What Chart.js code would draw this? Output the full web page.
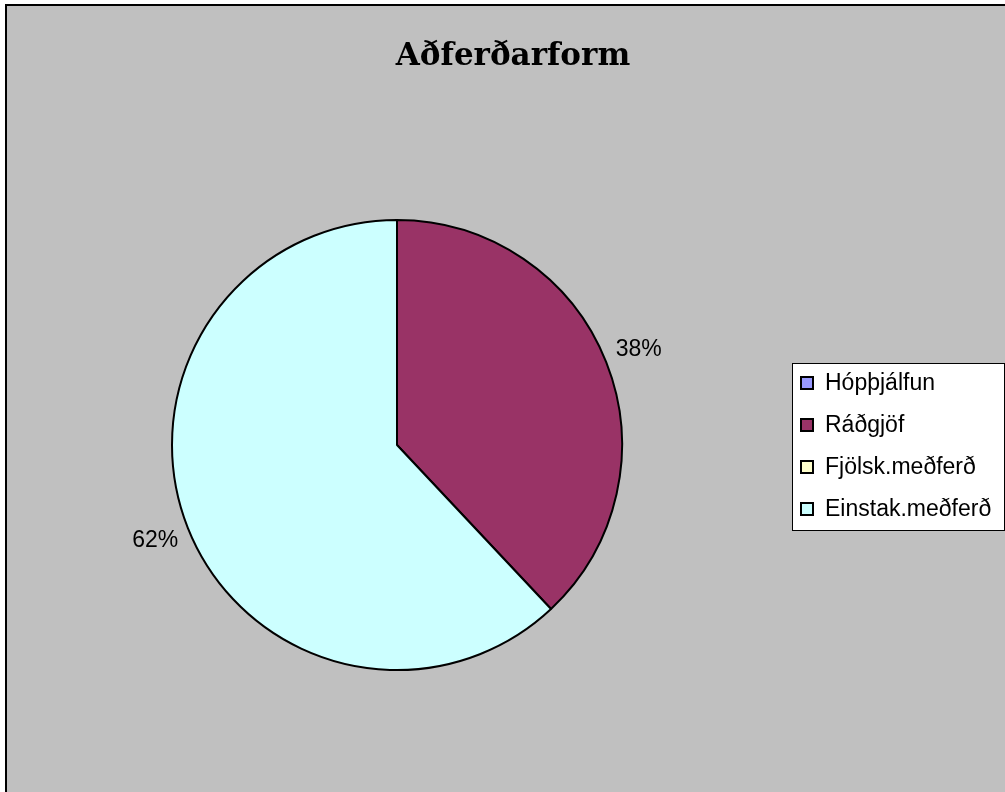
<!DOCTYPE html>
<html>
<head>
<meta charset="utf-8">
<script src="https://cdn.jsdelivr.net/npm/chart.js@4/dist/chart.umd.min.js"></script>
<style>
  html, body { margin: 0; padding: 0; background: #fff; }
  #wrap { width: 1005px; height: 792px; position: relative; }
</style>
</head>
<body>
<div id="wrap"><canvas id="pie" width="1005" height="792"></canvas></div>
<script>
// chart data
const CATEGORIES = ['Hópþjálfun', 'Ráðgjöf', 'Fjölsk.meðferð', 'Einstak.meðferð'];
const SHARES = [0, 38, 0, 62];
const COLORS = ['#9999FF', '#993366', '#FFFFCC', '#CCFFFF'];
const TITLE = 'Aðferðarform';

// background + frame
const frame = {
  id: 'frame',
  beforeDraw(chart) {
    const c = chart.ctx;
    c.save();
    c.fillStyle = '#fff';
    c.fillRect(0, 0, chart.width, chart.height);
    c.fillStyle = '#C0C0C0';
    c.fillRect(6, 5, chart.width - 6, chart.height - 5);
    c.strokeStyle = '#000';
    c.lineWidth = 2;
    c.beginPath();
    c.moveTo(6, chart.height);
    c.lineTo(6, 5);
    c.lineTo(chart.width, 5);
    c.stroke();
    c.restore();
  }
};

// title, percent labels, legend box
const extras = {
  id: 'extras',
  afterDraw(chart) {
    const c = chart.ctx;
    c.save();
    c.fillStyle = '#000';
    c.textAlign = 'center';
    c.textBaseline = 'alphabetic';
    c.font = 'bold 31px "DejaVu Serif"';
    c.fillText(TITLE, 513, 65);

    // percent labels outside each slice
    const meta = chart.getDatasetMeta(0);
    const total = SHARES.reduce((a, b) => a + b, 0);
    c.font = '23px "Liberation Sans"';
    c.textBaseline = 'middle';
    meta.data.forEach((arc, i) => {
      if (!SHARES[i]) return;
      const mid = (arc.startAngle + arc.endAngle) / 2;
      const r = arc.outerRadius + 35;
      const pct = Math.round(SHARES[i] / total * 100) + '%';
      c.fillText(pct, arc.x + Math.cos(mid) * r, arc.y + Math.sin(mid) * r);
    });

    // legend
    const bx = 792, by = 363, bw = 212, bh = 167;
    c.fillStyle = '#fff';
    c.fillRect(bx, by, bw, bh);
    c.strokeStyle = '#000';
    c.lineWidth = 1;
    c.strokeRect(bx + 0.5, by + 0.5, bw, bh);
    c.textAlign = 'left';
    c.font = '23px "Liberation Sans"';
    CATEGORIES.forEach((name, i) => {
      const y = 383 + i * 42;
      c.fillStyle = COLORS[i];
      c.fillRect(801, y - 6, 12, 12);
      c.strokeStyle = '#000';
      c.lineWidth = 2;
      c.strokeRect(801, y - 6, 12, 12);
      c.fillStyle = '#000';
      c.fillText(name, 825, y + 1);
    });
    c.restore();
  }
};

new Chart(document.getElementById('pie'), {
  type: 'pie',
  data: {
    labels: CATEGORIES,
    datasets: [{
      data: SHARES,
      backgroundColor: COLORS,
      borderColor: '#000',
      borderWidth: 2
    }]
  },
  options: {
    responsive: false,
    animation: false,
    devicePixelRatio: 1,
    layout: { padding: { left: 171, right: 382, top: 219, bottom: 121 } },
    plugins: {
      legend: { display: false },
      title: { display: false },
      tooltip: { enabled: false }
    }
  },
  plugins: [frame, extras]
});
</script>
</body>
</html>
